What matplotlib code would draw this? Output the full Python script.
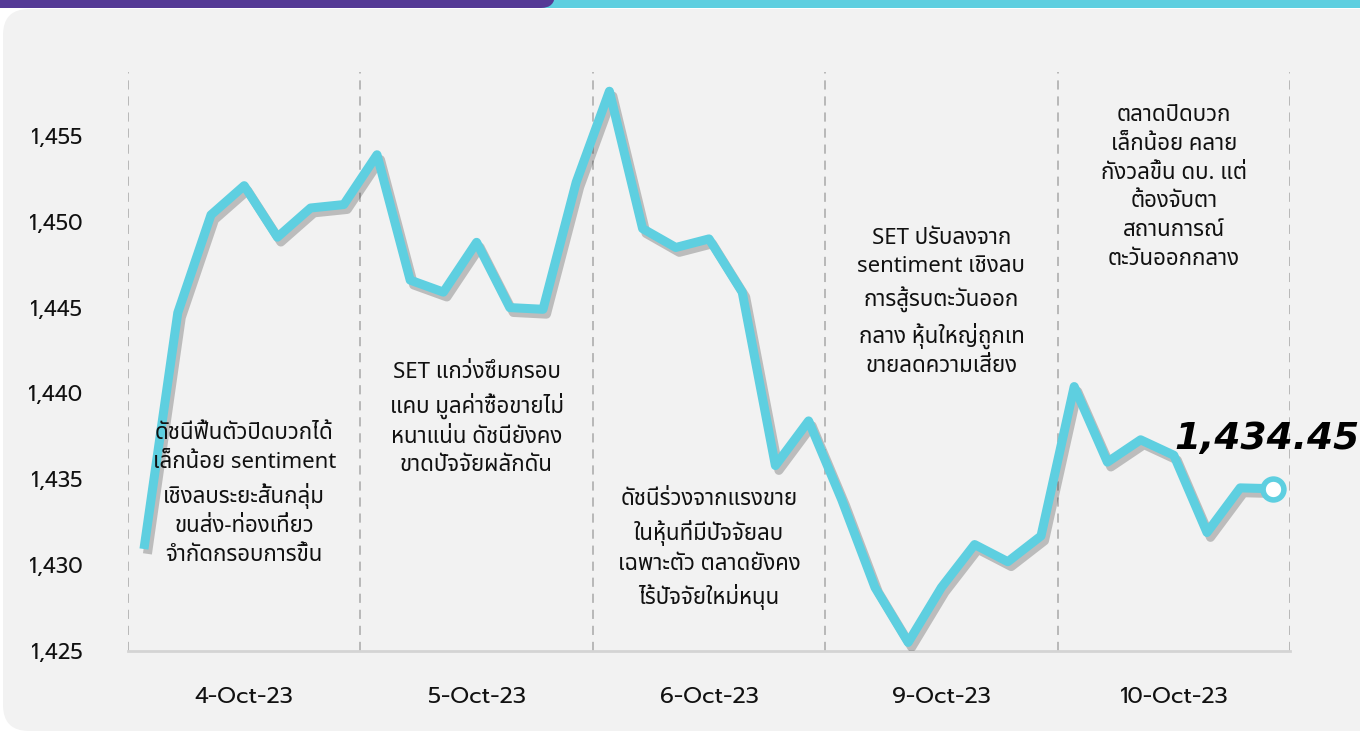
import matplotlib
matplotlib.use('Agg')
import matplotlib.pyplot as plt
from matplotlib import patheffects
from matplotlib.patches import FancyBboxPatch, Rectangle
from matplotlib.ticker import FuncFormatter

# SET index, 7 readings per trading day
days = ['4-Oct-23', '5-Oct-23', '6-Oct-23', '9-Oct-23', '10-Oct-23']
set_index = [
    1431.2, 1444.7, 1450.4, 1452.1, 1449.1, 1450.8, 1451.0,
    1453.9, 1446.6, 1445.9, 1448.8, 1445.0, 1444.9, 1452.3,
    1457.6, 1449.6, 1448.5, 1449.0, 1445.9, 1435.8, 1438.4,
    1433.8, 1428.7, 1425.5, 1428.7, 1431.2, 1430.2, 1431.7,
    1440.4, 1436.0, 1437.3, 1436.4, 1431.9, 1434.5, 1434.45,
]
y_ticks = [1425, 1430, 1435, 1440, 1445, 1450, 1455]
last_label = '1,434.45'

notes = [
    'ดัชนีฟื้นตัวปิดบวกได้\nเล็กน้อย sentiment\nเชิงลบระยะสั้นกลุ่ม\nขนส่ง-ท่องเที่ยว\nจำกัดกรอบการขึ้น',
    'SET แกว่งซึมกรอบ\nแคบ มูลค่าซื้อขายไม่\nหนาแน่น ดัชนียังคง\nขาดปัจจัยผลักดัน',
    'ดัชนีร่วงจากแรงขาย\nในหุ้นที่มีปัจจัยลบ\nเฉพาะตัว ตลาดยังคง\nไร้ปัจจัยใหม่หนุน',
    'SET ปรับลงจาก\nsentiment เชิงลบ\nการสู้รบตะวันออก\nกลาง หุ้นใหญ่ถูกเท\nขายลดความเสี่ยง',
    'ตลาดปิดบวก\nเล็กน้อย คลาย\nกังวลขึ้น ดบ. แต่\nต้องจับตา\nสถานการณ์\nตะวันออกกลาง',
]
# vertical placement of each note (index level)
note_levels = [1434.1, 1438.5, 1430.9, 1445.3, 1452.0]

CYAN = '#5ecfe0'
PURPLE = '#553a96'
tick_family = ['Prompt', 'DejaVu Sans']
note_family = ['Noto Sans Thai', 'DejaVu Sans']

per_day = len(set_index) // len(days)
x = list(range(len(set_index)))
centers = [d * per_day + (per_day - 1) / 2 for d in range(len(days))]
bounds = [d * per_day - 0.5 for d in range(len(days) + 1)]

fig = plt.figure(figsize=(13.6, 7.32), dpi=100, facecolor='white')

# background panel and top bars (display pixels)
fig.add_artist(FancyBboxPatch((3, 1), 1420, 722, boxstyle='round,pad=0,rounding_size=26',
                              fc='#f2f2f2', ec='none', transform=None, zorder=0))
fig.add_artist(Rectangle((530, 724), 840, 8, fc=CYAN, ec='none', transform=None, zorder=1))
fig.add_artist(FancyBboxPatch((-30, 724), 585, 30, boxstyle='round,pad=0,rounding_size=14',
                              fc=PURPLE, ec='none', transform=None, zorder=2))

ax = fig.add_axes([128 / 1360, 1 - 651 / 732, 1162 / 1360, 579 / 732])
ax.set_facecolor('none')
ax.set_xlim(bounds[0], bounds[-1])
ax.set_ylim(1425, 1458.72)

for b in bounds:
    ax.axvline(b, color='#a8a8a8', lw=1.1, dashes=(6, 4.5), zorder=1)

for s in ['top', 'right', 'left']:
    ax.spines[s].set_visible(False)
ax.spines['bottom'].set_color('#d4d4d4')
ax.spines['bottom'].set_linewidth(2)

ax.set_yticks(y_ticks)
ax.yaxis.set_major_formatter(FuncFormatter(lambda v, p: f'{v:,.0f}'))
ax.tick_params(axis='y', length=0, pad=33, labelsize=15.5, labelcolor='#111111')
ax.set_xticks(centers)
ax.set_xticklabels(days)
ax.tick_params(axis='x', length=0, pad=26, labelsize=16.5, labelcolor='#111111')
for lab in ax.get_yticklabels() + ax.get_xticklabels():
    lab.set_family(tick_family)

ax.plot(x, set_index, color=CYAN, lw=6.5, zorder=4,
        path_effects=[patheffects.SimpleLineShadow(offset=(2.5, -3.5), shadow_color='black', alpha=0.22),
                      patheffects.Normal()])
ax.plot(x[-1], set_index[-1], 'o', ms=15, mfc='white', mec=CYAN, mew=4, zorder=5, clip_on=False)

ax.annotate(last_label, (x[-1], set_index[-1]), xytext=(62, 36), textcoords='offset points',
            ha='right', va='center', fontsize=27, fontweight='bold', fontstyle='italic',
            color='black', annotation_clip=False, zorder=6)

# notes sit on top of the line, as in the original
for c, lvl, t in zip(centers, note_levels, notes):
    ax.text(c, lvl, t, ha='center', va='center', fontsize=16, linespacing=1.48,
            family=note_family, color='#111111', zorder=6)

fig.savefig('out.png', dpi=100, facecolor=fig.get_facecolor())
